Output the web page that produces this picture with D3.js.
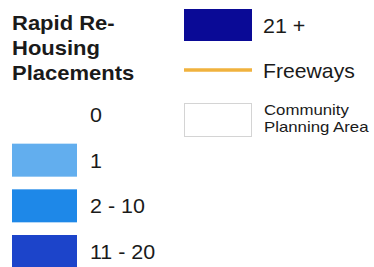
<!DOCTYPE html>
<html>
<head>
<meta charset="utf-8">
<script src="https://cdn.jsdelivr.net/npm/d3@7"></script>
<style>
  body { margin: 0; background: #fff; }
  svg { display: block; font-family: Arial, "Liberation Sans", sans-serif; }
</style>
</head>
<body>
<svg id="legend" width="374" height="267"></svg>
<script>
// legend data
const titleLines = ["Rapid Re-", "Housing", "Placements"]
const classLabels = ["0", "1", "2 - 10", "11 - 20", "21 +"]
const classColors = ["#ffffff", "#62aeee", "#1e88e8", "#1c44ca", "#0a0a96"]
const otherLabels = [["Freeways"], ["Community", "Planning Area"]]
const freewayColor = "#f0b23e"

const svg = d3.select("#legend")
const ink = "#1a1a1a"
const stretch = 1.1  // text in the source is slightly wide

// helper: text placed at x,y and stretched horizontally
const place = (x, y, s = stretch) => `translate(${x},${y}) scale(${s},1)`

// title
svg.append("g").selectAll("text")
  .data(titleLines)
  .join("text")
  .attr("transform", (d, i) => place(12, 30 + i * 25, 1.1))
  .attr("font-size", 20)
  .attr("font-weight", "bold")
  .attr("fill", ink)
  .text(d => d)

// left column: 0 .. 11-20
const leftItems = classLabels.slice(0, 4).map((l, i) => ({label: l, color: classColors[i]}))
const yLeft = d3.scalePoint().domain(leftItems.map(d => d.label)).range([114.5, 251.5])

const left = svg.append("g").selectAll("g")
  .data(leftItems)
  .join("g")
  .attr("transform", d => `translate(0,${yLeft(d.label)})`)

left.filter(d => d.label !== "0").append("rect")
  .attr("x", 12).attr("y", -16.5)
  .attr("width", 65).attr("height", 33)
  .attr("fill", d => d.color)

left.append("text")
  .attr("transform", d => d.label === "0" ? place(96, 7.5) : place(90, 7.5))
  .attr("text-anchor", d => d.label === "0" ? "middle" : "start")
  .attr("font-size", 19.5)
  .attr("fill", ink)
  .text(d => d.label)

// right column: 21+, freeways, community planning area
const yRight = d3.scaleLinear().domain([0, 2]).range([25, 120])
const right = svg.append("g")

right.append("rect")
  .attr("x", 184).attr("y", yRight(0) - 16)
  .attr("width", 68).attr("height", 32)
  .attr("fill", classColors[4])
right.append("text")
  .attr("transform", place(263, yRight(0) + 7.5))
  .attr("font-size", 19.5).attr("fill", ink)
  .text(classLabels[4])

right.append("line")
  .attr("x1", 184).attr("x2", 252)
  .attr("y1", 70).attr("y2", 70)
  .attr("stroke", freewayColor).attr("stroke-width", 3.5)
right.append("text")
  .attr("transform", place(263, 77.5, 1.06))
  .attr("font-size", 20).attr("fill", ink)
  .text(otherLabels[0][0])

right.append("rect")
  .attr("x", 184.5).attr("y", yRight(2) - 16.5)
  .attr("width", 67).attr("height", 33)
  .attr("fill", "#fff").attr("stroke", "#d4d4d4")
right.append("g").selectAll("text")
  .data(otherLabels[1])
  .join("text")
  .attr("transform", (d, i) => place(264, 115 + i * 17, 1.2))
  .attr("font-size", 14).attr("fill", ink)
  .text(d => d)
</script>
</body>
</html>
